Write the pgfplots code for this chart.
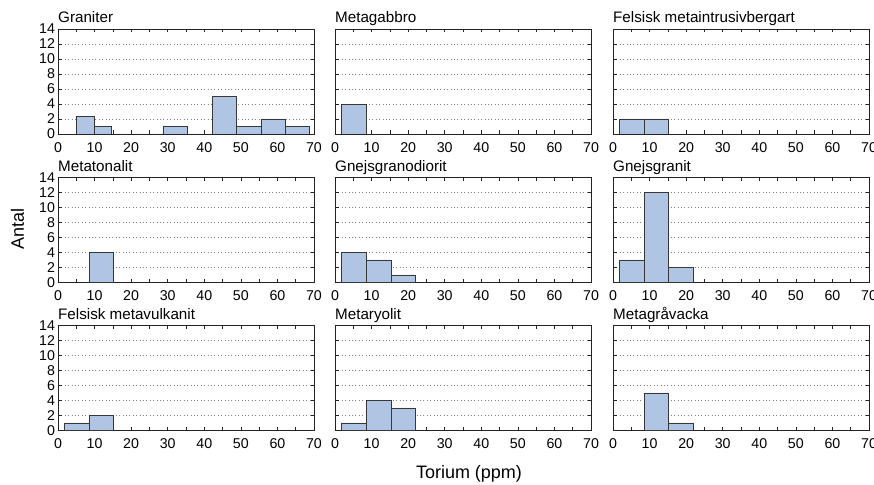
\documentclass[border=0pt]{standalone}
\usepackage{fontspec}
\setmainfont{Liberation Sans}
\usepackage{pgfplots}
\pgfplotsset{compat=1.18}

\definecolor{barfill}{RGB}{176,196,228}
\definecolor{baredge}{RGB}{55,55,55}
\definecolor{framecol}{RGB}{35,35,35}

\pgfplotsset{
  panel/.style={
    scale only axis, width=256pt, height=105pt,
    anchor=north west,
    xmin=0, xmax=70, ymin=0, ymax=14,
    xtick={0,10,...,70}, minor xtick={5,15,...,65},
    ytick={0,2,...,14},
    tick align=inside,
    major tick length=3.5pt, minor tick length=3.5pt,
    tick style={framecol, line width=0.6pt},
    axis line style={framecol, line width=0.8pt},
    ymajorgrids,
    grid style={black!50, line width=0.5pt, dash pattern=on 0.8pt off 2.6pt},
    tick label style={font=\fontsize{14.2}{15}\selectfont},
    /pgf/number format/assume math mode=true,
    xticklabel style={yshift=-5pt},
    yticklabel style={xshift=0.5pt},
    title style={at={(0,1)}, anchor=base west, yshift=0pt, inner sep=0pt,
                 font=\fontsize{15.2}{17}\selectfont},
  },
  noylabels/.style={yticklabels={}},
  hist/.style={ybar interval, fill=barfill, draw=baredge, line width=0.8pt},
}

\begin{document}
\begin{tikzpicture}[x=1pt,y=1pt]
\path[use as bounding box] (0,0) rectangle (874,484);

% row 1
\begin{axis}[panel, at={(58pt,455pt)}, title={Graniter}]
  \addplot[hist] coordinates {(5.1,2.3) (9.85,1) (14.7,0) (28.7,1) (35.4,0) (42.2,5) (48.8,1) (55.7,2) (62.2,1) (68.7,0)};
\end{axis}
\begin{axis}[panel, noylabels, at={(335pt,455pt)}, title={Metagabbro}]
  \addplot[hist] coordinates {(1.8,4) (8.6,0)};
\end{axis}
\begin{axis}[panel, noylabels, at={(613pt,455pt)}, title={Felsisk metaintrusivbergart}]
  \addplot[hist] coordinates {(1.8,2) (8.55,2) (15.25,0)};
\end{axis}

% row 2
\begin{axis}[panel, at={(58pt,306.5pt)}, title={Metatonalit}]
  \addplot[hist] coordinates {(8.55,4) (15.25,0)};
\end{axis}
\begin{axis}[panel, noylabels, at={(335pt,306.5pt)}, title={Gnejsgranodiorit}]
  \addplot[hist] coordinates {(1.8,4) (8.6,3) (15.3,1) (22.05,0)};
\end{axis}
\begin{axis}[panel, noylabels, at={(613pt,306.5pt)}, title={Gnejsgranit}]
  \addplot[hist] coordinates {(1.8,3) (8.55,12) (15.25,2) (21.95,0)};
\end{axis}

% row 3
\begin{axis}[panel, at={(58pt,158.5pt)}, title={Felsisk metavulkanit}]
  \addplot[hist] coordinates {(1.8,1) (8.6,2) (15.25,0)};
\end{axis}
\begin{axis}[panel, noylabels, at={(335pt,158.5pt)}, title={Metaryolit}]
  \addplot[hist] coordinates {(1.8,1) (8.6,4) (15.3,3) (22.05,0)};
\end{axis}
\begin{axis}[panel, noylabels, at={(613pt,158.5pt)}, title={Metagråvacka}]
  \addplot[hist] coordinates {(8.55,5) (15.25,1) (21.95,0)};
\end{axis}

% shared axis labels
\node[rotate=90, font=\fontsize{18}{20}\selectfont] at (17.5,255) {Antal};
\node[anchor=base, font=\fontsize{18}{20}\selectfont, inner sep=0pt] at (469,5.5) {Torium (ppm)};
\end{tikzpicture}
\end{document}
